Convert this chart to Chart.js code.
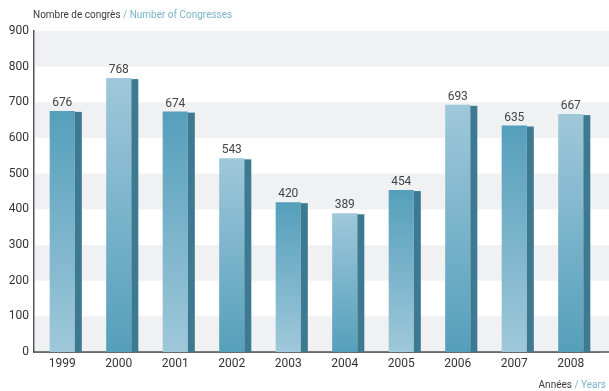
<!DOCTYPE html>
<html>
<head>
<meta charset="utf-8">
<script src="https://cdn.jsdelivr.net/npm/chart.js@4/dist/chart.umd.min.js"></script>
<style>
  html, body { margin: 0; padding: 0; background: #fff; }
  #wrap { width: 609px; height: 391px; }
</style>
</head>
<body>
<div id="wrap"><canvas id="canvasOne" width="609" height="391"></canvas></div>
<script>
// data
var years = ['1999', '2000', '2001', '2002', '2003', '2004', '2005', '2006', '2007', '2008'];
var congresses = [676, 768, 674, 543, 420, 389, 454, 693, 635, 667];
var yTicks = [0, 100, 200, 300, 400, 500, 600, 700, 800, 900];

var FONT = 'Roboto, "DejaVu Sans", sans-serif';
var dark = '#559fbb';
var light = '#9fc8da';
var side = '#3d7a91';

function barFill(ctx) {
    var chart = ctx.chart;
    if (!chart.chartArea || ctx.type !== 'data') return dark;
    var y = chart.scales.y;
    var top = y.getPixelForValue(ctx.raw);
    var bottom = y.getPixelForValue(0);
    var g = chart.ctx.createLinearGradient(0, top, 0, bottom);
    if (ctx.dataIndex % 2 == 0) {
        g.addColorStop(0, dark);
        g.addColorStop(1, light);
    } else {
        g.addColorStop(0, light);
        g.addColorStop(1, dark);
    }
    return g;
}

var decor = {
    id: 'decor',
    beforeDatasetsDraw: function(chart) {
        var c = chart.ctx, a = chart.chartArea, y = chart.scales.y;
        c.save();
        c.fillStyle = '#f0f1f3';
        for (var i = 0; i < yTicks.length - 1; i += 2) {
            var t = y.getPixelForValue(yTicks[i + 1]);
            var b = y.getPixelForValue(yTicks[i]);
            c.fillRect(a.left + 1, t, chart.width - a.left - 1, b - t);
        }
        // x axis line runs to the right edge
        c.fillStyle = '#555';
        c.fillRect(a.left, a.bottom - 0.75, chart.width - a.left, 1.5);
        c.restore();
    },
    afterDatasetsDraw: function(chart) {
        var c = chart.ctx;
        var meta = chart.getDatasetMeta(0);
        c.save();
        meta.data.forEach(function(bar, i) {
            var x0 = bar.x + bar.width / 2;
            c.fillStyle = side;
            c.fillRect(x0, bar.y + 1, 7, bar.base - bar.y - 1);
            c.fillStyle = '#444';
            c.font = '12px ' + FONT;
            c.textAlign = 'center';
            c.textBaseline = 'bottom';
            c.fillText(congresses[i], bar.x, bar.y - 2);
        });
        c.restore();
    },
    afterDraw: function(chart) {
        var c = chart.ctx;
        c.save();
        c.font = '10px ' + FONT;
        c.textBaseline = 'alphabetic';
        c.textAlign = 'left';
        var t1 = 'Nombre de congrès ';
        c.fillStyle = '#3a3a3a';
        c.fillText(t1, 33, 18);
        c.fillStyle = '#7ab4cc';
        c.fillText('/ Number of Congresses', 33 + c.measureText(t1).width, 18);

        var t2 = 'Années ';
        var t3 = '/ Years';
        var w3 = c.measureText(t3).width;
        var w2 = c.measureText(t2).width;
        c.fillStyle = '#7ab4cc';
        c.fillText(t3, 606 - w3, 388);
        c.fillStyle = '#3a3a3a';
        c.fillText(t2, 606 - w3 - w2, 388);
        c.restore();
    }
};

var ctx = document.getElementById('canvasOne').getContext('2d');
var config = {
    type: 'bar',
    data: {
        labels: years,
        datasets: [{
            label: 'Number of Congresses',
            data: congresses,
            backgroundColor: barFill,
            borderWidth: 0,
            barPercentage: 0.445,
            categoryPercentage: 1
        }]
    },
    options: {
        responsive: false,
        animation: false,
        layout: { padding: { top: 31, right: 10, left: 0, bottom: 0 } },
        plugins: {
            legend: { display: false },
            tooltip: { enabled: false }
        },
        scales: {
            x: {
                grid: { display: false, drawTicks: false },
                border: { display: true, color: '#555', width: 1.5 },
                ticks: { color: '#333', font: { family: FONT, size: 12 }, padding: 5 },
                afterFit: function(s) { s.height = 39; }
            },
            y: {
                min: 0,
                max: 900,
                grid: { display: false, drawTicks: false },
                border: { display: true, color: '#555', width: 1.5 },
                ticks: { stepSize: 100, color: '#333', font: { family: FONT, size: 12 }, padding: 5 },
                afterFit: function(s) { s.width = 34; }
            }
        }
    },
    plugins: [decor]
};

var chart = new Chart(ctx, config);
</script>
</body>
</html>
